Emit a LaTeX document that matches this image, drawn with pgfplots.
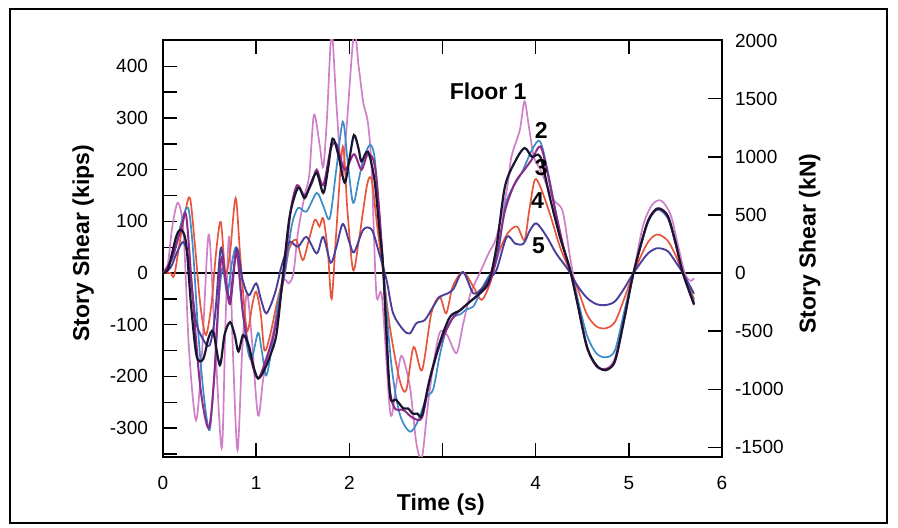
\documentclass[border=0pt]{standalone}
\usepackage{pgfplots}
\pgfplotsset{compat=1.18}
\usepackage{fontspec}
\setmainfont{Liberation Sans}
\definecolor{cpink}{HTML}{CF80C8}
\definecolor{cmag}{HTML}{8E2A8A}
\definecolor{cblack}{HTML}{1A1530}
\definecolor{cblue}{HTML}{3C8CC8}
\definecolor{cred}{HTML}{E8553C}
\definecolor{cpurp}{HTML}{4A3F9A}
\begin{document}
\begin{tikzpicture}
\useasboundingbox (-81.5pt,-35.5pt) rectangle (367.5pt,228.5pt);
\draw[line width=1.1pt] (-76.5pt,-33pt) rectangle (362pt,224pt);
\begin{axis}[
  scale only axis, width=279.5pt, height=208.5pt,
  xmin=0, xmax=6, ymin=-356, ymax=451,
  xtick={0,1,2,3,4,5,6}, xticklabels={0,1,2,,4,5,6},
  xtick pos=both, xticklabel pos=bottom,
  ytick={-300,-200,...,400}, minor ytick={-350,-250,...,450},
  ytick pos=left, tick align=inside,
  major tick length=7pt, minor tick length=7pt,
  every tick/.style={black, line width=0.7pt},
  axis line style={line width=0.8pt},
  /pgf/number format/assume math mode=true,
  ticklabel style={font=\fontsize{9.5}{11}\selectfont},
  xticklabel style={yshift=-6pt},
  yticklabel style={xshift=-4pt},
  xlabel={Time (s)}, ylabel={Story Shear (kips)},
  label style={font=\fontsize{11.5}{13}\selectfont\bfseries},
  xlabel style={at={(axis description cs:0.497,-0.113)}, anchor=center},
  ylabel style={at={(axis description cs:-0.143,0.512)}, anchor=center},
  clip=true,
]
\addplot[black, line width=0.6pt] coordinates {(0,0) (6,0)};
% Floor 1 (pink)
\addplot[cpink, line width=0.85pt, smooth, tension=0.5] coordinates {
(0,0) (0.05,15) (0.1,90) (0.16,136) (0.22,80) (0.28,-150) (0.355,-285) (0.42,-150) (0.49,74) (0.55,-100) (0.63,-339) (0.67,-100) (0.71,70) (0.75,-150) (0.80,-343) (0.85,-150) (0.9,-40) (0.95,-120) (1.02,-275) (1.08,-200) (1.18,-117) (1.29,-17) (1.35,-20) (1.4,0) (1.45,80) (1.52,150) (1.57,190) (1.62,306) (1.68,250) (1.72,205) (1.76,300) (1.81,465) (1.86,330) (1.92,190) (1.97,280) (2.05,465) (2.1,400) (2.15,330) (2.2,290) (2.24,200) (2.29,-40) (2.35,-46) (2.44,-271) (2.5,-220) (2.56,-160) (2.65,-220) (2.72,-330) (2.78,-356) (2.84,-260) (2.9,-180) (2.97,-115) (3.05,-120) (3.15,-155) (3.22,-100) (3.3,-40) (3.4,0) (3.5,40) (3.58,70) (3.69,161) (3.74,225) (3.83,277) (3.88,332) (3.93,280) (3.98,225) (4.05,200) (4.12,170) (4.2,140) (4.29,119) (4.37,30) (4.45,-50) (4.55,-140) (4.65,-180) (4.75,-185) (4.85,-165) (4.95,-80) (5.05,0) (5.15,90) (5.25,132) (5.35,140) (5.45,112) (5.52,60) (5.6,0) (5.66,-15) (5.7,-10)};
% Floor 4 (red)
\addplot[cred, line width=0.85pt, smooth, tension=0.5] coordinates {
(0,0) (0.08,0) (0.12,-5) (0.18,60) (0.24,120) (0.29,145) (0.34,60) (0.4,-60) (0.46,-120) (0.52,-60) (0.57,40) (0.62,99) (0.67,0) (0.72,40) (0.78,145) (0.83,30) (0.9,-110) (0.96,-60) (1.0,-36) (1.05,-80) (1.09,-150) (1.15,-120) (1.22,-60) (1.3,0) (1.36,50) (1.43,64) (1.5,25) (1.56,60) (1.63,103) (1.68,90) (1.72,106) (1.77,40) (1.81,-50) (1.86,80) (1.93,245) (1.98,120) (2.04,6) (2.1,60) (2.19,170) (2.24,180) (2.3,90) (2.36,6) (2.44,-110) (2.54,-207) (2.61,-227) (2.69,-143) (2.78,-188) (2.88,-78) (2.97,-46) (3.04,-78) (3.11,-26) (3.22,2) (3.33,-26) (3.42,-52) (3.51,-20) (3.6,38) (3.7,77) (3.8,90) (3.88,64) (3.93,120) (3.99,180) (4.05,167) (4.15,116) (4.26,51) (4.35,12) (4.45,-30) (4.55,-80) (4.65,-103) (4.75,-107) (4.85,-95) (4.95,-50) (5.05,0) (5.19,55) (5.27,72) (5.33,74) (5.42,62) (5.5,35) (5.58,0) (5.7,-50)};
% Floor 3 (blue)
\addplot[cblue, line width=0.85pt, smooth, tension=0.5] coordinates {
(0,0) (0.05,10) (0.12,40) (0.2,100) (0.27,126) (0.32,50) (0.38,-120) (0.44,-240) (0.5,-304) (0.55,-200) (0.6,-50) (0.64,10) (0.69,-40) (0.74,20) (0.79,48) (0.84,-50) (0.9,-140) (0.95,-167) (1.02,-116) (1.06,-150) (1.11,-198) (1.18,-130) (1.24,-52) (1.31,0) (1.38,90) (1.45,126) (1.54,119) (1.65,155) (1.72,130) (1.79,106) (1.86,200) (1.93,293) (1.98,220) (2.04,136) (2.1,180) (2.15,219) (2.22,248) (2.27,225) (2.32,120) (2.36,19) (2.45,-175) (2.54,-272) (2.65,-307) (2.74,-285) (2.83,-240) (2.9,-225) (2.97,-160) (3.04,-110) (3.12,-85) (3.19,-80) (3.26,-70) (3.33,-65) (3.4,-40) (3.47,-14) (3.55,10) (3.6,40) (3.67,128) (3.74,161) (3.85,194) (3.96,238) (4.05,254) (4.15,180) (4.26,77) (4.37,6) (4.45,-50) (4.55,-120) (4.65,-155) (4.75,-163) (4.85,-150) (4.95,-75) (5.05,0) (5.19,90) (5.27,118) (5.33,122) (5.42,105) (5.5,60) (5.58,0) (5.7,-55)};
% Floor 5 (purple)
\addplot[cpurp, line width=0.95pt, smooth, tension=0.5] coordinates {
(0,0) (0.08,10) (0.15,40) (0.22,60) (0.28,20) (0.35,-90) (0.42,-125) (0.5,-140) (0.56,-80) (0.62,48) (0.67,-10) (0.72,-50) (0.79,48) (0.85,-10) (0.92,-43) (1.0,-20) (1.05,-50) (1.11,-78) (1.2,-40) (1.27,12) (1.32,40) (1.36,61) (1.45,51) (1.54,70) (1.65,38) (1.72,70) (1.8,20) (1.86,50) (1.93,95) (2.0,60) (2.05,40) (2.15,84) (2.24,84) (2.31,45) (2.4,-14) (2.47,-78) (2.58,-110) (2.65,-117) (2.72,-97) (2.81,-91) (2.9,-65) (2.97,-46) (3.05,-40) (3.12,-30) (3.22,2) (3.33,-39) (3.42,-30) (3.5,-10) (3.58,6) (3.69,70) (3.78,57) (3.87,57) (3.94,83) (4.01,96) (4.12,70) (4.22,38) (4.35,6) (4.45,-25) (4.55,-48) (4.65,-60) (4.75,-62) (4.85,-55) (4.95,-30) (5.05,0) (5.19,35) (5.27,46) (5.33,48) (5.42,42) (5.5,22) (5.58,0) (5.7,-40)};
% dark magenta
\addplot[cmag, line width=1.0pt, smooth, tension=0.5] coordinates {
(0,0) (0.1,30) (0.2,90) (0.25,110) (0.32,-50) (0.4,-220) (0.49,-300) (0.55,-200) (0.62,20) (0.66,0) (0.72,-60) (0.79,40) (0.86,-80) (0.95,-170) (1.02,-204) (1.1,-170) (1.2,-110) (1.3,0) (1.37,120) (1.44,170) (1.52,150) (1.6,175) (1.65,200) (1.72,170) (1.8,240) (1.86,250) (1.95,200) (2.05,230) (2.13,200) (2.2,230) (2.28,200) (2.36,20) (2.42,-200) (2.48,-260) (2.58,-265) (2.68,-280) (2.78,-280) (2.86,-210) (2.97,-140) (3.1,-90) (3.2,-70) (3.3,-55) (3.4,-40) (3.5,-20) (3.58,30) (3.67,120) (3.78,175) (3.88,200) (3.96,220) (4.05,245) (4.12,200) (4.2,130) (4.3,50) (4.37,5) (4.45,-60) (4.55,-143) (4.65,-180) (4.75,-186) (4.85,-172) (4.95,-90) (5.05,0) (5.19,92) (5.27,118) (5.33,124) (5.42,108) (5.5,58) (5.58,0) (5.7,-62)};
% Floor 2 (black)
\addplot[cblack, line width=1.1pt, smooth, tension=0.5] coordinates {
(0,0) (0.05,5) (0.1,40) (0.15,75) (0.2,83) (0.25,55) (0.3,-60) (0.36,-160) (0.43,-167) (0.49,-125) (0.54,-114) (0.61,-178) (0.66,-120) (0.72,-95) (0.77,-120) (0.81,-152) (0.86,-120) (0.92,-140) (0.97,-180) (1.02,-204) (1.08,-190) (1.15,-160) (1.22,-116) (1.29,0) (1.36,110) (1.45,165) (1.52,145) (1.58,170) (1.65,194) (1.72,155) (1.77,200) (1.82,260) (1.88,230) (1.95,175) (2.0,220) (2.05,267) (2.1,240) (2.13,216) (2.2,235) (2.27,180) (2.32,90) (2.36,19) (2.4,-120) (2.44,-240) (2.5,-245) (2.58,-262) (2.63,-262) (2.68,-272) (2.73,-272) (2.78,-275) (2.86,-207) (2.97,-135) (3.08,-85) (3.19,-72) (3.29,-56) (3.4,-39) (3.5,-15) (3.58,51) (3.67,167) (3.78,216) (3.88,242) (3.96,225) (4.05,225) (4.15,148) (4.26,70) (4.37,6) (4.45,-60) (4.55,-143) (4.65,-178) (4.75,-188) (4.85,-170) (4.95,-90) (5.05,0) (5.19,93) (5.27,120) (5.33,125) (5.42,110) (5.5,60) (5.58,0) (5.7,-60)};
\node[font=\fontsize{11.5}{13}\selectfont\bfseries] at (axis cs:3.49,351) {Floor 1};
\node[font=\fontsize{11.5}{13}\selectfont\bfseries] at (axis cs:4.06,275) {2};
\node[font=\fontsize{11.5}{13}\selectfont\bfseries] at (axis cs:4.06,205) {3};
\node[font=\fontsize{11.5}{13}\selectfont\bfseries] at (axis cs:4.02,140) {4};
\node[font=\fontsize{11.5}{13}\selectfont\bfseries] at (axis cs:4.03,52) {5};
\end{axis}
\begin{axis}[
  scale only axis, width=279.5pt, height=208.5pt,
  xmin=0, xmax=6, ymin=-1583, ymax=2006,
  axis x line=none, axis y line*=right,
  ytick={-1500,-1000,...,1500}, extra y ticks={2000},
  extra y tick style={major tick length=0pt},
  tick align=inside, major tick length=7pt,
  every tick/.style={black, line width=0.7pt},
  axis line style={line width=0.8pt},
  /pgf/number format/assume math mode=true,
  /pgf/number format/1000 sep={},
  ticklabel style={font=\fontsize{9.5}{11}\selectfont},
  yticklabel style={xshift=3pt},
  ylabel={Story Shear (kN)},
  label style={font=\fontsize{11.5}{13}\selectfont\bfseries},
  ylabel style={at={(axis description cs:1.157,0.512)}, anchor=center, rotate=0},
]
\addplot[draw=none] coordinates {(0,0)};
\end{axis}
\end{tikzpicture}
\end{document}
